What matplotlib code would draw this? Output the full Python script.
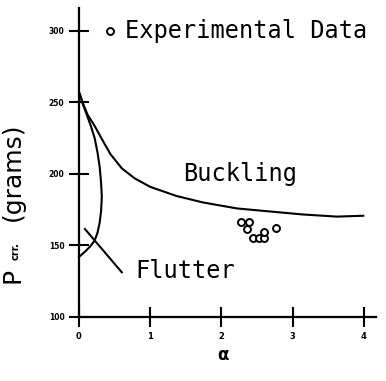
import matplotlib
matplotlib.use("Agg")
import matplotlib.pyplot as plt

# buckling boundary
buck_a = [0.01, 0.05, 0.12, 0.22, 0.32, 0.44, 0.60, 0.78, 1.00, 1.37, 1.74, 2.22, 2.68, 3.14, 3.62, 3.99]
buck_p = [256, 250, 241.5, 233.6, 224.5, 214, 204, 197, 191, 184.6, 180.1, 175.9, 173.8, 171.7, 170.2, 170.8]

# flutter boundary
flut_a = [0.01, 0.06, 0.12, 0.17, 0.22, 0.26, 0.29, 0.31, 0.32, 0.31, 0.29, 0.26, 0.22, 0.16, 0.08, 0.0]
flut_p = [256, 248, 240, 233, 225, 215, 205, 194, 184, 174, 166, 159, 153.5, 149.5, 145.5, 142]

# experimental points
exp_a = [2.28, 2.38, 2.36, 2.44, 2.52, 2.59, 2.59, 2.77]
exp_p = [166.6, 166.2, 161.5, 155.0, 155.0, 155.0, 159.2, 162.0]

yticks = [100, 150, 200, 250, 300]
xticks = [0, 1, 2, 3, 4]

mono = "DejaVu Sans Mono"

fig = plt.figure(figsize=(3.86, 3.81), dpi=100)
ax = fig.add_axes([79/386, 1 - 317/381, (376 - 79)/386, (317 - 8)/381])

ax.plot(buck_a, buck_p, color="black", lw=1.5, clip_on=False)
ax.plot(flut_a, flut_p, color="black", lw=1.5, clip_on=False)
ax.plot(exp_a, exp_p, "o", ms=5, mfc="white", mec="black", mew=1.4)

# legend-like label
ax.plot([0.435], [300], "o", ms=5, mfc="white", mec="black", mew=1.4)
ax.text(0.646, 300, "Experimental Data", fontfamily=mono, fontsize=17, va="center", ha="left")
ax.text(1.46, 200, "Buckling", fontfamily=mono, fontsize=17, va="center", ha="left")
ax.text(0.786, 132.2, "Flutter", fontfamily=mono, fontsize=17, va="center", ha="left")
ax.plot([0.084, 0.60], [161.5, 131.3], color="black", lw=1.5)

ax.set_xlim(0, (376 - 79) / 71.25)
ax.set_ylim(100, 100 + 309 * 0.6993)
ax.set_xticks(xticks)
ax.set_yticks(yticks)
ax.set_xticklabels([str(t) for t in xticks], fontsize=6, fontweight="bold")
ax.set_yticklabels([str(t) for t in yticks], fontsize=5.5, fontweight="bold")
ax.tick_params(direction="inout", length=15, width=1.5, pad=3)

for s in ["top", "right"]:
    ax.spines[s].set_visible(False)
for s in ["left", "bottom"]:
    ax.spines[s].set_linewidth(1.6)

# y label: P, subscript, (grams)
lab = dict(rotation=90, fontsize=18, ha="center", va="center", color="black")
fig.text(13/386, 1 - 275/381, "P", **lab)
fig.text(16/386, 1 - 251/381, "crr.", rotation=90, fontsize=7, fontweight="bold",
         ha="center", va="center")
fig.text(13/386, 1 - 172/381, "(grams)", **lab)
fig.text(223/386, 1 - 355/381, "α", fontsize=12, fontweight="bold", ha="center", va="center")

fig.savefig("out.png", dpi=100)
